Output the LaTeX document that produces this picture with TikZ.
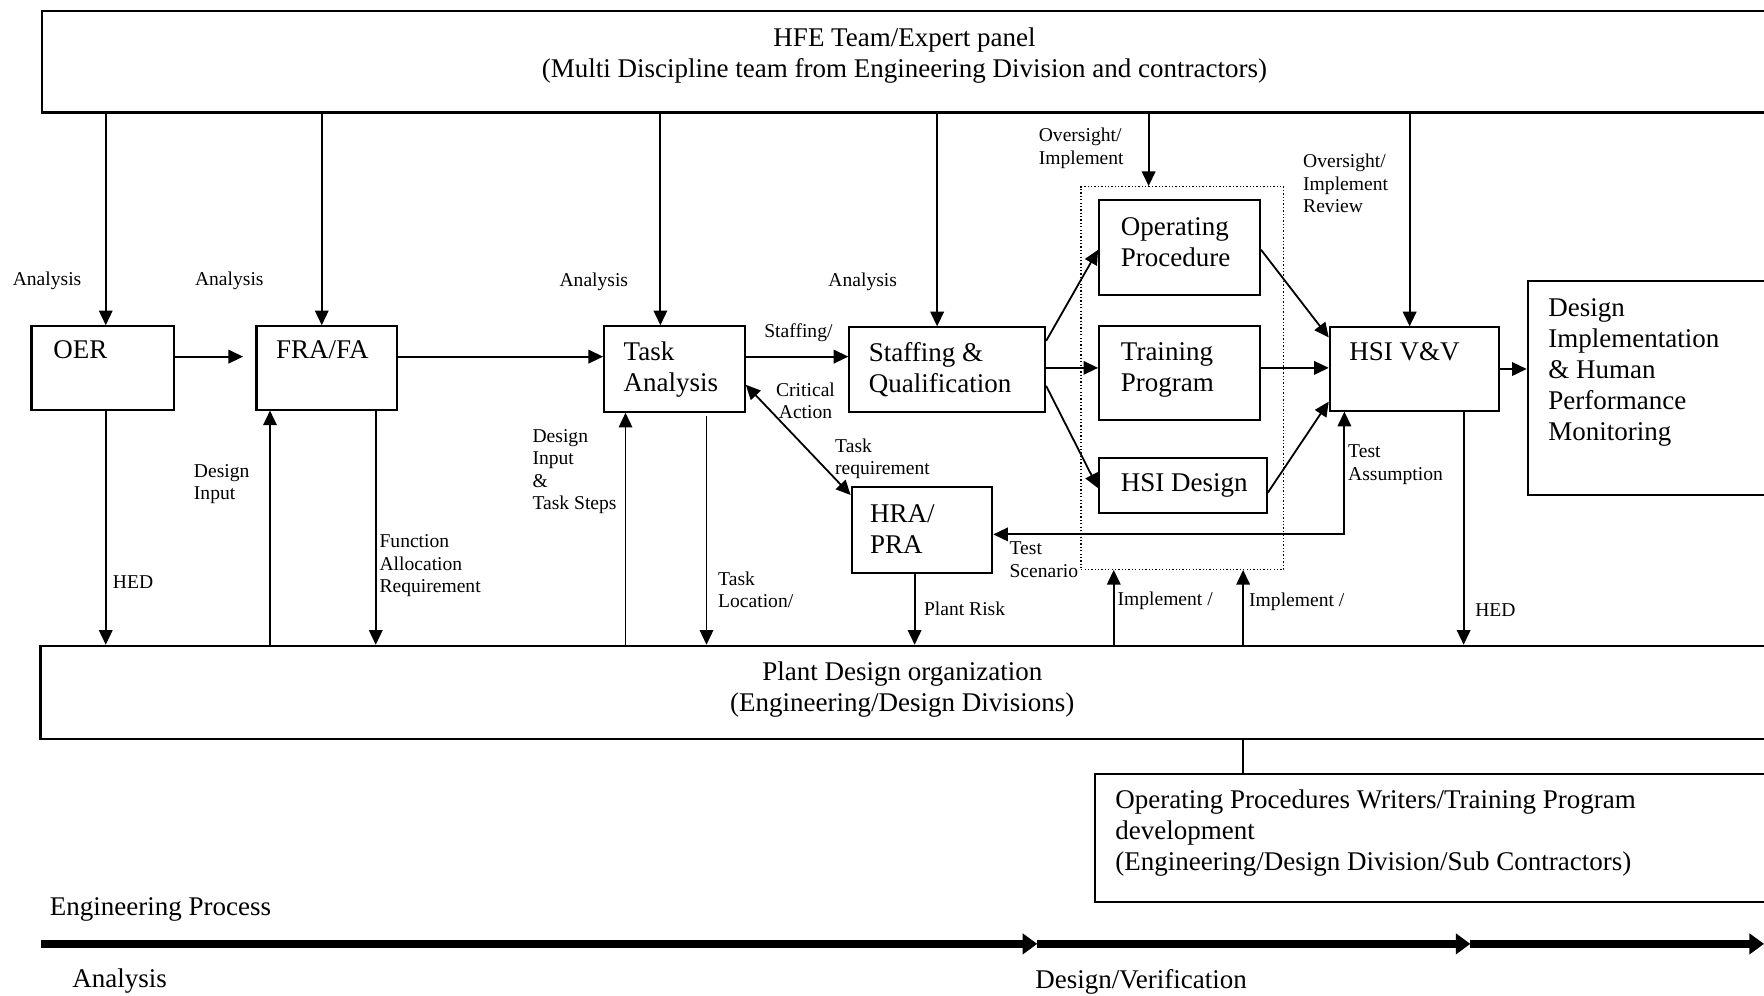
\documentclass[tikz,border=0pt]{standalone}
\usepackage{fontspec}
\setmainfont{Liberation Serif}
\usetikzlibrary{arrows.meta,fit}
\newcommand{\tl}[1]{\begin{tabular}[t]{@{}l@{}}#1\end{tabular}}
\newcommand{\tc}[1]{\begin{tabular}[t]{@{}c@{}}#1\end{tabular}}
\tikzset{
  box/.style={draw, line width=0.9pt, inner sep=0pt},
  dots/.style={draw, line width=0.6pt, dash pattern=on 0.6pt off 0.9pt, inner sep=0pt},
  big/.style={font=\fontsize{12}{13.8}\selectfont, inner sep=0pt, anchor=base west},
  lab/.style={font=\fontsize{8.7}{10}\selectfont, inner sep=0pt, anchor=base west},
  arr/.style={line width=0.8pt, -{Triangle[length=6.5pt,width=6pt]}},
  darr/.style={line width=0.8pt, {Triangle[length=6.5pt,width=6pt]}-{Triangle[length=6.5pt,width=6pt]}},
  ln/.style={line width=0.8pt},
  procarr/.style={line width=3.7pt, -{Triangle[length=6.5pt,width=9pt]}}
}
\begin{document}
\begin{tikzpicture}[x=0.5pt,y=-0.5pt]
\useasboundingbox (0,0) rectangle (1568,885);
\clip (0,0) rectangle (1568,885);
% boxes
\node[box, fit={(37,10)(1600,100)}] (hfe) {};
\node[box, fit={(28,290)(155,364)}] (oer) {};
\node[box, fit={(228,290)(353,364)}] (fra) {};
\node[box, fit={(537,290)(662,366)}] (ta) {};
\node[box, fit={(755,291)(929,366)}] (sq) {};
\node[box, fit={(977,178)(1120,262)}] (op) {};
\node[box, fit={(977,290)(1120,373)}] (tp) {};
\node[box, fit={(977,407)(1126,456)}] (hsid) {};
\node[dots, fit={(961,166)(1141,506)}] (dot) {};
\node[box, fit={(1182,291)(1332,365)}] (vv) {};
\node[box, fit={(1358,250)(1600,440)}] (dim) {};
\node[box, fit={(757,433)(882,509)}] (hra) {};
\node[box, fit={(36,574)(1600,657)}] (pdo) {};
\node[box, fit={(973,688)(1600,802)}] (wr) {};
% box texts
\node[big, anchor=base] (thfe) at (804,41) {\tc{HFE Team/Expert panel\\(Multi Discipline team from Engineering Division and contractors)}};
\node[big] (toer) at (47,319) {OER};
\node[big] (tfra) at (245,319) {FRA/FA};
\node[big] (tta) at (554,320) {\tl{Task\\Analysis}};
\node[big] (tsq) at (772,321) {\tl{Staffing \&\\Qualification}};
\node[big] (top) at (996,209) {\tl{Operating\\Procedure}};
\node[big] (ttp) at (996,320) {\tl{Training\\Program}};
\node[big] (thd) at (996,437) {HSI Design};
\node[big] (tvv) at (1199,320) {HSI V\&V};
\node[big] (tdim) at (1376,281) {\tl{Design\\Implementation\\\& Human\\Performance\\Monitoring}};
\node[big] (thra) at (773,464) {\tl{HRA/\\PRA}};
\node[big, anchor=base] (tpdo) at (802,605) {\tc{Plant Design organization\\(Engineering/Design Divisions)}};
\node[big] (twr) at (991,719) {\tl{Operating Procedures Writers/Training Program\\development\\(Engineering/Design Division/Sub Contractors)}};
\node[big] (tep) at (44,814) {Engineering Process};
\node[big] (tan) at (64,878) {Analysis};
\node[big] (tdv) at (920,879) {Design/Verification};
% arrows from the expert panel
\draw[arr] (94,0 |- hfe.south) -- (94,0 |- oer.north);
\draw[arr] (286,0 |- hfe.south) -- (286,0 |- fra.north);
\draw[arr] (587,0 |- hfe.south) -- (587,0 |- ta.north);
\draw[arr] (833,0 |- hfe.south) -- (833,0 |- sq.north);
\draw[arr] (1021,0 |- hfe.south) -- (1021,0 |- dot.north);
\draw[arr] (1253,0 |- hfe.south) -- (1253,0 |- vv.north);
% flow
\draw[arr, shorten >=5.5pt] (oer.east |- 0,317) -- (fra.west |- 0,317);
\draw[arr] (fra.east |- 0,317) -- (ta.west |- 0,317);
\draw[arr] (ta.east |- 0,317) -- (sq.west |- 0,317);
\draw[arr] (sq.east |- 0,303) -- (op.west |- 0,222);
\draw[arr] (sq.east |- 0,327) -- (tp.west |- 0,327);
\draw[arr] (sq.east |- 0,343) -- (hsid.west |- 0,434);
\draw[arr] (op.east |- 0,222) -- (vv.west |- 0,300);
\draw[arr] (tp.east |- 0,327) -- (vv.west |- 0,327);
\draw[arr] (hsid.east |- 0,438) -- (vv.west |- 0,357);
\draw[arr] (vv.east |- 0,328) -- (dim.west |- 0,328);
\draw[darr] (ta.east |- 0,342) -- (hra.west |- 0,440);
\draw[darr] (1195,0 |- vv.south) -- (1195,475) -- (hra.east |- 0,475);
% to / from plant design organization
\draw[arr] (94,0 |- oer.south) -- (94,0 |- pdo.north);
\draw[arr] (240,0 |- pdo.north) -- (240,0 |- fra.south);
\draw[arr] (334,0 |- fra.south) -- (334,0 |- pdo.north);
\draw[arr] (556,0 |- pdo.north) -- (556,0 |- ta.south);
\draw[arr, shorten <=1.5pt] (628,0 |- ta.south) -- (628,0 |- pdo.north);
\draw[arr] (813,0 |- hra.south) -- (813,0 |- pdo.north);
\draw[arr] (990,0 |- pdo.north) -- (990,0 |- dot.south);
\draw[arr] (1105,0 |- pdo.north) -- (1105,0 |- dot.south);
\draw[arr] (1301,0 |- vv.south) -- (1301,0 |- pdo.north);
\draw[ln] (1105,0 |- pdo.south) -- (1105,0 |- wr.north);
% engineering process arrow
\coordinate (e0) at (36,839);
\coordinate (e1) at (922,839);
\coordinate (e2) at (1307,839);
\coordinate (e3) at (1568,839);
\draw[procarr] (e0) -- (e1);
\draw[procarr] (e1) -- (e2);
\draw[procarr] (e2) -- (e3);
% labels
\node[lab] (l1) at (11,254) {Analysis};
\node[lab] (l2) at (173,254) {Analysis};
\node[lab] (l3) at (497,255) {Analysis};
\node[lab] (l4) at (736,255) {Analysis};
\node[lab] (l5) at (923,126) {\tl{Oversight/\\Implement}};
\node[lab] (l6) at (1158,149) {\tl{Oversight/\\Implement\\Review}};
\node[lab] (l7) at (679,300) {Staffing/};
\node[lab, anchor=base] (l8) at (716,352) {\tc{Critical\\Action}};
\node[lab] (l9) at (742,402) {\tl{Task\\requirement}};
\node[lab] (l10) at (897,493) {\tl{Test\\Scenario}};
\node[lab] (l11) at (1198,407) {\tl{Test\\Assumption}};
\node[lab] (l12) at (100,523) {HED};
\node[lab] (l13) at (172,424) {\tl{Design\\Input}};
\node[lab] (l14) at (337,487) {\tl{Function\\Allocation\\Requirement}};
\node[lab] (l15) at (473,393) {\tl{Design\\Input\\\&\\Task Steps}};
\node[lab] (l16) at (638,520) {\tl{Task\\Location/}};
\node[lab] (l17) at (821,547) {Plant Risk};
\node[lab] (l18) at (993,538) {Implement /};
\node[lab] (l19) at (1110,539) {Implement /};
\node[lab] (l20) at (1311,548) {HED};
\end{tikzpicture}
\end{document}
